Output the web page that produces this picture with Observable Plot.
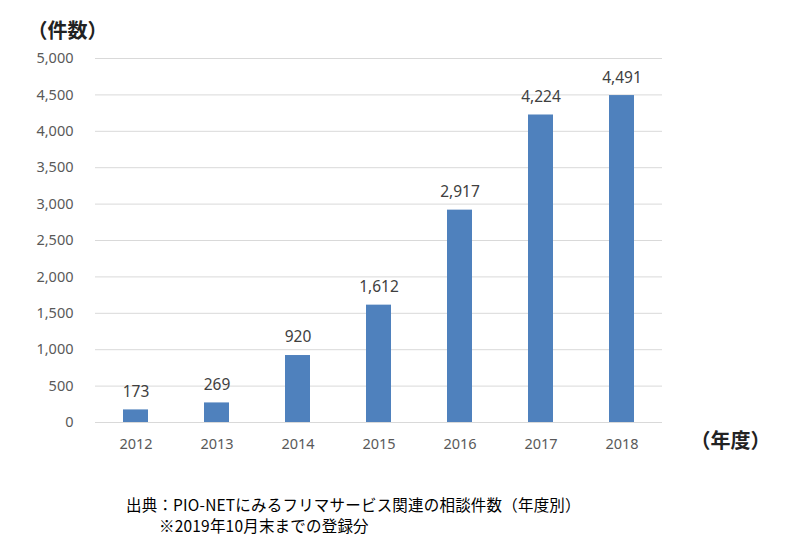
<!DOCTYPE html>
<html><head><meta charset="utf-8">
<script src="https://cdn.jsdelivr.net/npm/d3@7"></script>
<script src="https://cdn.jsdelivr.net/npm/@observablehq/plot@0.6"></script>
<style>
body{margin:0;background:#fff;font-family:"Noto Sans CJK JP","Noto Sans",sans-serif;}
#wrap{width:806px;}
#wrap svg{display:block;}
.cap{font-family:"Noto Sans CJK JP",sans-serif;font-size:15.5px;letter-spacing:0.2px;line-height:21px;color:#000;white-space:nowrap;}
</style></head>
<body><div id="wrap"></div>
<div id="caps" style="padding-top:24px"></div>
<script>
const years = ["2012","2013","2014","2015","2016","2017","2018"];
const counts = [173, 269, 920, 1612, 2917, 4224, 4491];
const yTicks = [0,500,1000,1500,2000,2500,3000,3500,4000,4500,5000];
const yLabel = "（件数）";
const xLabel = "（年度）";
const captionLines = ["出典：PIO-NETにみるフリマサービス関連の相談件数（年度別）", "※2019年10月末までの登録分"];

const data = years.map((y,i)=>({year:y, count:counts[i]}));
const fmt = d3.format(",");
const chart = Plot.plot({
  width: 806, height: 470,
  marginLeft: 95, marginRight: 144, marginTop: 58, marginBottom: 48,
  style: {fontFamily: "'Noto Sans', sans-serif", fontSize: "14.5px", color: "#595959", background: "#fff"},
  x: {domain: years, paddingInner: 0.69, paddingOuter: 0.345, label: null, tickSize: 0, tickPadding: 16},
  y: {domain: [0,5000], ticks: yTicks, tickFormat: fmt, label: null, tickSize: 0, tickPadding: 22},
  marks: [
    Plot.gridY(yTicks, {stroke: "#d9d9d9", strokeOpacity: 1, strokeWidth: 1}),
    Plot.barY(data, {x: "year", y: "count", fill: "#4f81bd"}),
    Plot.text(data, {x: "year", y: "count", text: d => fmt(d.count), dy: -18, fill: "#404040", fontSize: 15.5}),
    Plot.text([yLabel], {frameAnchor: "top-left", dx: -68, dy: -35, fontSize: 20, fontWeight: "bold", fill: "#222", fontFamily: "'Noto Sans CJK JP', sans-serif", textAnchor: "start"}),
    Plot.text([xLabel], {frameAnchor: "bottom-right", dx: 108, dy: 25, fontSize: 20, fontWeight: "bold", fill: "#222", fontFamily: "'Noto Sans CJK JP', sans-serif"})
  ]
});
document.getElementById("wrap").appendChild(chart);
const caps = document.getElementById("caps");
const c1 = document.createElement("div"); c1.className="cap"; c1.style.marginLeft="126px"; c1.textContent=captionLines[0];
const c2 = document.createElement("div"); c2.className="cap"; c2.style.marginLeft="159px"; c2.textContent=captionLines[1];
caps.appendChild(c1); caps.appendChild(c2);
</script></body></html>
